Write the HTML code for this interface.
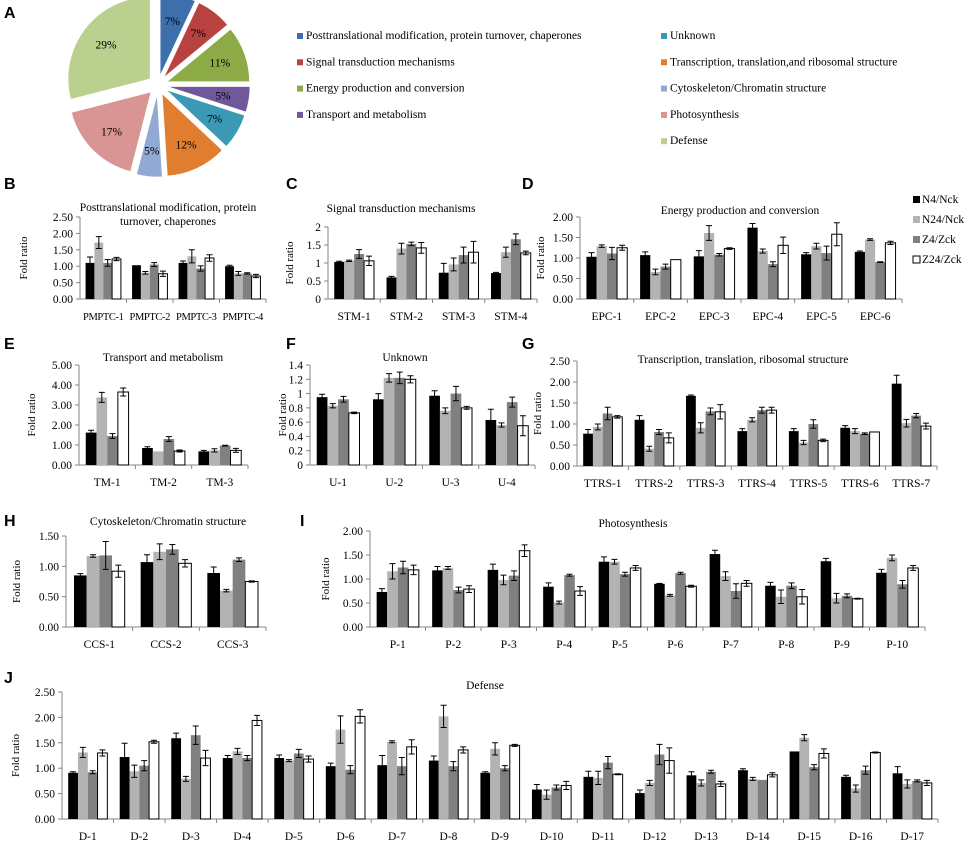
<!DOCTYPE html>
<html><head><meta charset="utf-8">
<style>
body{margin:0;background:#fff;}
svg{display:block;font-family:"Liberation Serif",serif;}
.lt{font-family:"Liberation Sans",sans-serif;font-weight:bold;font-size:16px;}
</style></head>
<body>
<svg id="fig" width="964" height="843" viewBox="0 0 964 843" xmlns="http://www.w3.org/2000/svg"></svg>
<script>
// ---------- Data ----------
const pieLabels = ["Posttranslational modification, protein turnover, chaperones","Signal transduction mechanisms","Energy production and conversion","Transport and metabolism","Unknown","Transcription, translation,and  ribosomal structure","Cytoskeleton/Chromatin structure","Photosynthesis","Defense"];
const pieValues = [7,7,11,5,7,12,5,17,29];
const pieColors = ["#3d6fad","#b84240","#8caa46","#71589a","#3a9ab5","#e07d2f","#92a9d4","#d99594","#b9d08f"];
const seriesNames = ["N4/Nck","N24/Nck","Z4/Zck","Z24/Zck"];
const seriesFill = ["#000000","#b3b3b3","#808080","#ffffff"];

const bCats = ["PMPTC-1","PMPTC-2","PMPTC-3","PMPTC-4"];
const bMeans = [[1.1,1.72,1.1,1.22],[1.03,0.8,1.05,0.77],[1.1,1.3,0.93,1.25],[1.0,0.78,0.78,0.7]];
const bErr = [[0.18,0.18,0.1,0.05],[0,0.04,0.06,0.08],[0.06,0.2,0.08,0.1],[0.03,0.06,0.02,0.05]];
const bTicks = [0,0.5,1,1.5,2,2.5];

const cCats = ["STM-1","STM-2","STM-3","STM-4"];
const cMeans = [[1.03,1.06,1.25,1.06],[0.6,1.4,1.53,1.42],[0.73,0.96,1.22,1.3],[0.72,1.3,1.66,1.28]];
const cErr = [[0.02,0.02,0.12,0.13],[0.03,0.15,0.05,0.15],[0.26,0.18,0.22,0.3],[0.02,0.14,0.15,0.05]];
const cTicks = [0,0.5,1,1.5,2];

const dCats = ["EPC-1","EPC-2","EPC-3","EPC-4","EPC-5","EPC-6"];
const dMeans = [[1.03,1.29,1.11,1.25],[1.07,0.66,0.79,0.96],[1.04,1.61,1.08,1.23],[1.74,1.17,0.85,1.31],[1.09,1.29,1.12,1.58],[1.15,1.45,0.9,1.37]];
const dErr = [[0.1,0.03,0.15,0.06],[0.08,0.07,0.06,0],[0.14,0.18,0.03,0.02],[0.1,0.05,0.06,0.2],[0.04,0.07,0.17,0.28],[0.02,0.02,0.01,0.04]];
const dTicks = [0,0.5,1,1.5,2];

const eCats = ["TM-1","TM-2","TM-3"];
const eMeans = [[1.62,3.38,1.45,3.65],[0.85,0.68,1.3,0.7],[0.68,0.73,0.97,0.73]];
const eErr = [[0.12,0.25,0.12,0.2],[0.06,0,0.12,0.05],[0.05,0.08,0.02,0.1]];
const eTicks = [0,1,2,3,4,5];

const fCats = ["U-1","U-2","U-3","U-4"];
const fMeans = [[0.95,0.83,0.92,0.73],[0.92,1.22,1.22,1.2],[0.97,0.76,1.0,0.8],[0.63,0.56,0.88,0.55]];
const fErr = [[0.04,0.03,0.04,0.01],[0.08,0.06,0.08,0.05],[0.07,0.04,0.1,0.02],[0.15,0.03,0.07,0.14]];
const fTicks = [0,0.2,0.4,0.6,0.8,1,1.2,1.4];

const gCats = ["TTRS-1","TTRS-2","TTRS-3","TTRS-4","TTRS-5","TTRS-6","TTRS-7"];
const gMeans = [[0.77,0.93,1.25,1.17],[1.1,0.41,0.81,0.67],[1.67,0.91,1.3,1.29],[0.83,1.1,1.33,1.33],[0.83,0.56,1.0,0.61],[0.91,0.83,0.77,0.81],[1.96,1.02,1.2,0.95]];
const gErr = [[0.1,0.07,0.15,0.03],[0.1,0.06,0.06,0.12],[0.02,0.12,0.08,0.17],[0.06,0.05,0.07,0.07],[0.06,0.05,0.1,0.03],[0.05,0.06,0.02,0],[0.2,0.09,0.05,0.07]];
const gTicks = [0,0.5,1,1.5,2,2.5];

const hCats = ["CCS-1","CCS-2","CCS-3"];
const hMeans = [[0.85,1.17,1.18,0.92],[1.07,1.24,1.28,1.05],[0.89,0.6,1.11,0.75]];
const hErr = [[0.03,0.02,0.23,0.1],[0.12,0.13,0.08,0.06],[0.1,0.02,0.03,0.01]];
const hTicks = [0,0.5,1,1.5];

const iCats = ["P-1","P-2","P-3","P-4","P-5","P-6","P-7","P-8","P-9","P-10"];
const iMeans = [[0.73,1.16,1.24,1.19],[1.18,1.23,0.77,0.79],[1.19,0.98,1.07,1.59],[0.84,0.51,1.08,0.75],[1.36,1.36,1.1,1.23],[0.9,0.66,1.12,0.85],[1.52,1.06,0.75,0.91],[0.86,0.63,0.86,0.63],[1.37,0.6,0.65,0.59],[1.13,1.44,0.89,1.23]];
const iErr = [[0.07,0.16,0.13,0.1],[0.08,0.03,0.06,0.07],[0.12,0.1,0.1,0.12],[0.08,0.03,0.02,0.09],[0.1,0.05,0.04,0.05],[0.01,0.02,0.02,0.02],[0.08,0.09,0.15,0.06],[0.07,0.14,0.06,0.15],[0.06,0.1,0.04,0.01],[0.07,0.06,0.08,0.05]];
const iTicks = [0,0.5,1,1.5,2];

const jCats = ["D-1","D-2","D-3","D-4","D-5","D-6","D-7","D-8","D-9","D-10","D-11","D-12","D-13","D-14","D-15","D-16","D-17"];
const jMeans = [[0.91,1.31,0.92,1.3],[1.22,0.94,1.05,1.52],[1.59,0.79,1.65,1.2],[1.2,1.33,1.2,1.94],[1.2,1.15,1.29,1.18],[1.04,1.76,0.97,2.02],[1.06,1.52,1.04,1.42],[1.15,2.02,1.04,1.36],[0.91,1.38,1.0,1.45],[0.58,0.48,0.62,0.66],[0.83,0.81,1.11,0.88],[0.51,0.71,1.27,1.15],[0.86,0.71,0.93,0.69],[0.96,0.79,0.77,0.87],[1.33,1.6,1.02,1.29],[0.83,0.6,0.96,1.31],[0.9,0.69,0.75,0.71]];
const jErr = [[0.02,0.1,0.03,0.06],[0.27,0.12,0.1,0.03],[0.1,0.05,0.18,0.15],[0.05,0.06,0.05,0.1],[0.06,0.02,0.08,0.06],[0.06,0.27,0.08,0.13],[0.19,0.02,0.17,0.14],[0.09,0.22,0.09,0.06],[0.02,0.12,0.05,0.02],[0.1,0.09,0.05,0.08],[0.11,0.13,0.12,0.01],[0.06,0.05,0.2,0.25],[0.07,0.06,0.03,0.05],[0.03,0.03,0,0.04],[0,0.06,0.05,0.09],[0.03,0.07,0.08,0.01],[0.13,0.08,0.02,0.05]];
const jTicks = [0,0.5,1,1.5,2,2.5];

// ---------- Drawing ----------
const svg = document.getElementById('fig');
const NS = 'http://www.w3.org/2000/svg';
function mk(tag, attrs, parent){
  const el = document.createElementNS(NS, tag);
  for (const k in attrs) el.setAttribute(k, attrs[k]);
  (parent||svg).appendChild(el);
  return el;
}
function txt(s, x, y, size, anchor, parent, cls){
  const t = mk('text', {x:x, y:y, 'font-size':size, 'text-anchor':anchor||'start', fill:'#000'}, parent);
  if (cls) t.setAttribute('class', cls);
  t.textContent = s;
  return t;
}

// Pie
const pieG = mk('g', {});


const total = pieValues.reduce((a,b)=>a+b,0);
const pcx = 158, pcy = 85, pr = 82, pex = 10;
let acc = 0;
pieValues.forEach((v,i)=>{
  const a0 = acc/total*2*Math.PI, a1 = (acc+v)/total*2*Math.PI;
  acc += v;
  const am = (a0+a1)/2;
  const ox = pcx + pex*Math.sin(am), oy = pcy - pex*Math.cos(am);
  const x0 = ox + pr*Math.sin(a0), y0 = oy - pr*Math.cos(a0);
  const x1 = ox + pr*Math.sin(a1), y1 = oy - pr*Math.cos(a1);
  const large = (a1-a0) > Math.PI ? 1 : 0;
  const p = mk('path', {d:`M${ox},${oy} L${x0},${y0} A${pr},${pr} 0 ${large} 1 ${x1},${y1} Z`, fill:pieColors[i], stroke:'#fff', 'stroke-width':0.5}, pieG);
  
  
  const lx = ox + pr*0.68*Math.sin(am), ly = oy - pr*0.68*Math.cos(am);
  const t = txt(v + '%', lx, ly+4, 11.5, 'middle', pieG);
  
  
});
const la = txt('A', 4, 18, 16, 'start', svg, 'lt');



// Pie legend
const legG = mk('g', {});


pieLabels.forEach((s,i)=>{
  const col = i < 4 ? 0 : 1;
  const row = i < 4 ? i : i-4;
  const x = col ? 661 : 297, y = 39 + row*26.3;
  const g = mk('g', {}, legG);
  
  
  mk('rect', {x:x, y:y-6, width:6, height:6, fill:pieColors[i]}, g);
  txt(s, x+9, y, 11.5, 'start', g);
});

function fmt(v, dec){ return dec === null ? String(v) : v.toFixed(dec); }

function panel(cfg){
  const {name, letter, lx, ly, cats, means, errs, ticks, dec, x0, x1, yTop, yBot, title, tx, ty, fx} = cfg;
  const g = mk('g', {});
  
  
  const L = txt(letter, lx, ly, 16, 'start', g, 'lt');
  
  
  const yMax = ticks[ticks.length-1];
  const ys = v => yBot - (v/yMax)*(yBot-yTop);
  const tg = mk('g', {}, g);
  
  
  title.forEach((line, k)=> txt(line, tx, ty + k*14, 11.5, 'middle', tg));
  const ya = mk('g', {}, g);
  
  
  mk('line', {x1:x0, y1:yTop, x2:x0, y2:yBot, stroke:'#868686', 'stroke-width':1}, ya);
  ticks.forEach(t=>{
    const y = ys(t);
    mk('line', {x1:x0-4, y1:y, x2:x0, y2:y, stroke:'#868686'}, ya);
    const tl = txt(fmt(t, dec), x0-7, y+4, 11.5, 'end', ya);
    
    
  });
  const yt = txt('Fold ratio', 0, 0, 11, 'middle', g);
  yt.setAttribute('transform', `translate(${fx},${(yTop+yBot)/2}) rotate(-90)`);
  
  
  const xa = mk('g', {}, g);
  
  
  mk('line', {x1:x0, y1:yBot, x2:x1, y2:yBot, stroke:'#868686'}, xa);
  const gw = (x1-x0)/cats.length;
  const bw = gw*0.19;
  cats.forEach((c, i)=>{
    mk('line', {x1:x0+(i+1)*gw, y1:yBot, x2:x0+(i+1)*gw, y2:yBot+4, stroke:'#868686'}, xa);
    const cl = txt(c, x0+(i+0.5)*gw, yBot+21, cfg.xfs || 11.5, 'middle', xa);
    if (cfg.xls) cl.setAttribute('letter-spacing', cfg.xls);
    
    
  });
  cats.forEach((c, i)=>{
    const cx = x0 + (i+0.5)*gw;
    means[i].forEach((v, s)=>{
      const bx = cx - 2*bw + s*bw;
      const y = ys(v);
      const r = mk('rect', {x:bx, y:y, width:bw, height:yBot-y, fill:seriesFill[s], stroke: s===3 ? '#000' : 'none', 'stroke-width':1}, g);
      
      
      const e = errs[i][s];
      if (e > 0){
        const ex = bx + bw/2;
        const eb = mk('path', {d:`M${ex},${ys(v+e)} V${ys(v-e)} M${ex-3},${ys(v+e)} H${ex+3} M${ex-3},${ys(v-e)} H${ex+3}`, stroke:'#000', 'stroke-width':1, fill:'none'}, g);
        
        
      }
    });
  });
}

panel({name:'chart-b', letter:'B', lx:4, ly:189, cats:bCats, means:bMeans, errs:bErr, ticks:bTicks, dec:2, x0:80, x1:266, yTop:217, yBot:299, title:['Posttranslational modification, protein','turnover, chaperones'], tx:168, ty:211, fx:27, xfs:10.5, xls:-0.4});
panel({name:'chart-c', letter:'C', lx:286, ly:189, cats:cCats, means:cMeans, errs:cErr, ticks:cTicks, dec:null, x0:328, x1:537, yTop:227, yBot:299, title:['Signal transduction mechanisms'], tx:401, ty:212, fx:293});
panel({name:'chart-d', letter:'D', lx:522, ly:189, cats:dCats, means:dMeans, errs:dErr, ticks:dTicks, dec:2, x0:580, x1:902, yTop:217, yBot:299, title:['Energy production and conversion'], tx:740, ty:214, fx:544});
panel({name:'chart-e', letter:'E', lx:4, ly:349, cats:eCats, means:eMeans, errs:eErr, ticks:eTicks, dec:2, x0:79, x1:248, yTop:365, yBot:465, title:['Transport and metabolism'], tx:163, ty:361, fx:35});
panel({name:'chart-f', letter:'F', lx:286, ly:349, cats:fCats, means:fMeans, errs:fErr, ticks:fTicks, dec:null, x0:310, x1:535, yTop:365, yBot:465, title:['Unknown'], tx:405, ty:361, fx:286});
panel({name:'chart-g', letter:'G', lx:522, ly:349, cats:gCats, means:gMeans, errs:gErr, ticks:gTicks, dec:2, x0:577, x1:937, yTop:361, yBot:466, title:['Transcription, translation,  ribosomal structure'], tx:743, ty:363, fx:541});
panel({name:'chart-h', letter:'H', lx:4, ly:526, cats:hCats, means:hMeans, errs:hErr, ticks:hTicks, dec:2, x0:66, x1:266, yTop:536, yBot:627, title:['Cytoskeleton/Chromatin structure'], tx:168, ty:525, fx:20});
panel({name:'chart-i', letter:'I', lx:300, ly:526, cats:iCats, means:iMeans, errs:iErr, ticks:iTicks, dec:2, x0:370, x1:925, yTop:531, yBot:627, title:['Photosynthesis'], tx:633, ty:527, fx:329});
panel({name:'chart-j', letter:'J', lx:4, ly:683, cats:jCats, means:jMeans, errs:jErr, ticks:jTicks, dec:2, x0:62, x1:938, yTop:692, yBot:819, title:['Defense'], tx:485, ty:689, fx:19});

// Series legend
const sl = mk('g', {});


seriesNames.forEach((s, i)=>{
  const y = 203 + i*20;
  const g = mk('g', {}, sl);
  
  
  mk('rect', {x:913, y:y-7, width:7, height:7, fill:seriesFill[i], stroke: i===3 ? '#000' : 'none'}, g);
  txt(s, 922, y, 11.5, 'start', g);
});
</script>
</body></html>
